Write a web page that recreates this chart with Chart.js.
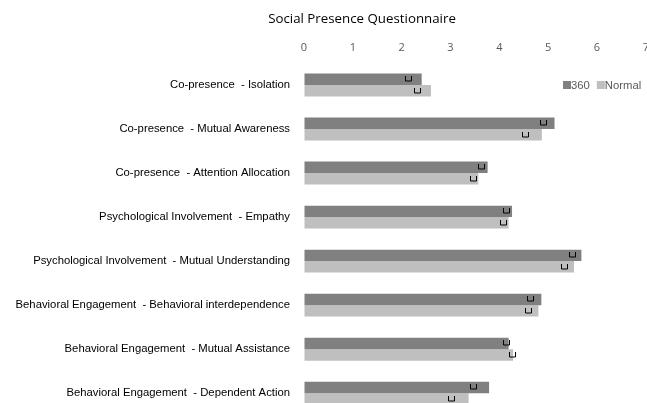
<!DOCTYPE html>
<html><head><meta charset="utf-8">
<script src="https://cdn.jsdelivr.net/npm/chart.js@4.4.0/dist/chart.umd.min.js"></script>
<style>html,body{margin:0;padding:0;overflow:hidden;background:#fff}canvas{display:block}</style>
</head><body><canvas id="c" width="649" height="422" style="width:649px;height:422px"></canvas>
<script>
const categories = [
  "Co-presence  - Isolation",
  "Co-presence  - Mutual Awareness",
  "Co-presence  - Attention Allocation",
  "Psychological Involvement  - Empathy",
  "Psychological Involvement  - Mutual Understanding",
  "Behavioral Engagement  - Behavioral interdependence",
  "Behavioral Engagement  - Mutual Assistance",
  "Behavioral Engagement  - Dependent Action"
];
const seriesNames = ["360", "Normal"];
const values360 = [2.41, 5.13, 3.76, 4.26, 5.68, 4.86, 4.19, 3.79];
const valuesNormal = [2.60, 4.87, 3.57, 4.19, 5.53, 4.80, 4.28, 3.37];
const markers360 = [2.12, 4.90, 3.63, 4.14, 5.49, 4.62, 4.14, 3.46];
const markersNormal = [2.31, 4.52, 3.46, 4.07, 5.32, 4.58, 4.25, 3.00];
const xTicks = [0, 1, 2, 3, 4, 5, 6, 7];
const titleText = "Social Presence Questionnaire";

const markerPlugin = {
  id: 'markers',
  afterDatasetsDraw(chart) {
    const ctx = chart.ctx, xs = chart.scales.x;
    chart.data.datasets.forEach((ds, di) => {
      const meta = chart.getDatasetMeta(di);
      meta.data.forEach((bar, i) => {
        const x = Math.round(xs.getPixelForValue(ds.markers[i])) + 0.5;
        const y = Math.round(bar.y);
        ctx.save();
        ctx.strokeStyle = '#000';
        ctx.lineWidth = 1;
        ctx.beginPath();
        ctx.moveTo(x - 3, y - 3);
        ctx.lineTo(x - 3, y + 2);
        ctx.lineTo(x + 3, y + 2);
        ctx.lineTo(x + 3, y - 3);
        ctx.stroke();
        ctx.restore();
      });
    });
  }
};
const decoPlugin = {
  id: 'deco',
  afterDraw(chart) {
    const ctx = chart.ctx;
    ctx.save();
    ctx.fillStyle = '#000';
    ctx.font = '13.3px "Open Sans"';
    ctx.textAlign = 'center';
    ctx.textBaseline = 'middle';
    ctx.fillText(titleText, 362, 19);
    // legend
    ctx.font = '11.3px "Liberation Sans"';
    ctx.textAlign = 'left';
    let x = 563;
    chart.data.datasets.forEach((ds) => {
      ctx.fillStyle = ds.backgroundColor;
      ctx.fillRect(x, 81, 8, 8);
      ctx.fillStyle = '#595959';
      ctx.fillText(ds.label, x + 8, 85.5);
      x += 8 + ctx.measureText(ds.label).width + 7;
    });
    ctx.restore();
  }
};

const hiddenGrid = (len) => ({ display: true, drawOnChartArea: false, drawTicks: true, tickLength: len, color: 'rgba(0,0,0,0)', tickColor: 'rgba(0,0,0,0)' });

new Chart(document.getElementById('c'), {
  type: 'bar',
  data: {
    labels: categories,
    datasets: [
      { label: seriesNames[0], data: values360, markers: markers360, backgroundColor: '#808080' },
      { label: seriesNames[1], data: valuesNormal, markers: markersNormal, backgroundColor: '#bfbfbf' }
    ]
  },
  options: {
    indexAxis: 'y',
    responsive: false,
    maintainAspectRatio: false,
    devicePixelRatio: 1,
    animation: false,
    layout: { padding: { top: 30, right: 0, bottom: 0, left: 0 } },
    datasets: { bar: { categoryPercentage: 0.52, barPercentage: 1.0 } },
    plugins: { legend: { display: false }, title: { display: false }, tooltip: { enabled: false } },
    scales: {
      x: {
        position: 'top', min: 0, max: 7,
        afterBuildTicks(s) { s.ticks = xTicks.map(v => ({ value: v })); },
        afterFit(s) { s.height = 33; },
        grid: hiddenGrid(9),
        border: { display: false },
        ticks: { padding: 0, color: '#595959', font: { family: '"Open Sans"', size: 11 } }
      },
      y: {
        afterFit(s) { s.width = 304; },
        grid: hiddenGrid(14),
        border: { display: false },
        ticks: { padding: 0, color: '#000', font: { family: '"Liberation Sans"', size: 11.3 } }
      }
    }
  },
  plugins: [markerPlugin, decoPlugin]
});
</script></body></html>
